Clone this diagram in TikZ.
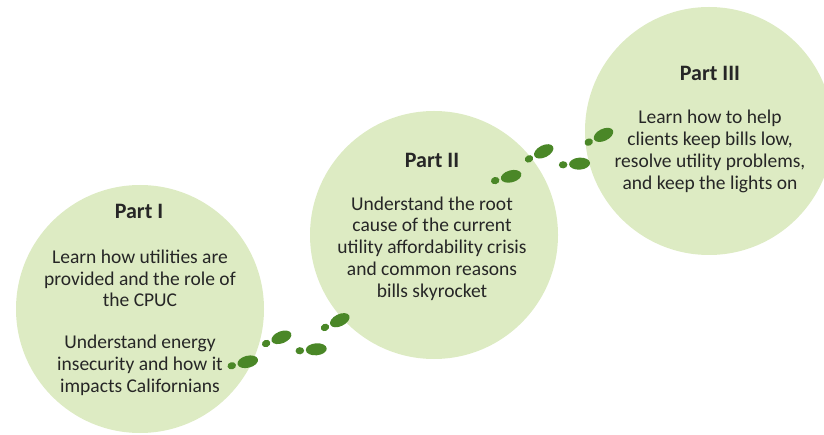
\documentclass[tikz,border=0pt]{standalone}
\usepackage{fontspec}
\setmainfont{Carlito}
\definecolor{circfill}{HTML}{DDEBC3}
\definecolor{footc}{HTML}{4A8727}
\definecolor{txtc}{HTML}{262626}
\tikzset{
  stage/.style={circle, fill=circfill, draw=none, minimum size=248pt, inner sep=0pt},
  ptitle/.style={text=txtc, font=\fontsize{22}{26}\selectfont\bfseries},
  pbody/.style={text=txtc, align=center, font=\fontsize{19.5}{21.8}\selectfont},
  printc/.style={fill=footc, draw=none}
}
\newcommand{\footprnt}[3]{%
  \begin{scope}[shift={(#1,#2)}, rotate=#3]
    \fill[printc] (-8.5pt,0pt) ellipse [x radius=4.3pt, y radius=3.6pt];
    \fill[printc] (8pt,0pt) ellipse [x radius=10.5pt, y radius=6pt];
  \end{scope}}
\begin{document}
\begin{tikzpicture}[x=1pt,y=-1pt]
\useasboundingbox (0,0) rectangle (824,435);
\node[stage] (c1) at (140,309) {};
\node[stage] (c2) at (434,235) {};
\node[stage] (c3) at (709,131) {};
\node[ptitle] (t1) at (139,211) {Part I};
\node[pbody] (b1a) at (140,278.5) {Learn how utilities are\\provided and the role of\\the CPUC};
\node[pbody] (b1b) at (140,365.5) {Understand energy\\insecurity and how it\\impacts Californians};
\node[ptitle] (t2) at (432,160) {Part II};
\node[pbody] (b2) at (432,248.5) {Understand the root\\cause of the current\\utility affordability crisis\\and common reasons\\bills skyrocket};
\node[ptitle] (t3) at (710,73) {Part III};
\node[pbody] (b3) at (710,151.5) {Learn how to help\\clients keep bills low,\\resolve utility problems,\\and keep the lights on};
% footprints, group 1
\footprnt{240}{363.7}{14}
\footprnt{274}{340.3}{22}
\footprnt{308.3}{350}{5}
\footprnt{332.6}{323.7}{26}
% footprints, group 2
\footprnt{503.4}{178.4}{15}
\footprnt{536.6}{155}{27}
\footprnt{571.6}{164.2}{4}
\footprnt{596.3}{138.4}{26}
\end{tikzpicture}
\end{document}
